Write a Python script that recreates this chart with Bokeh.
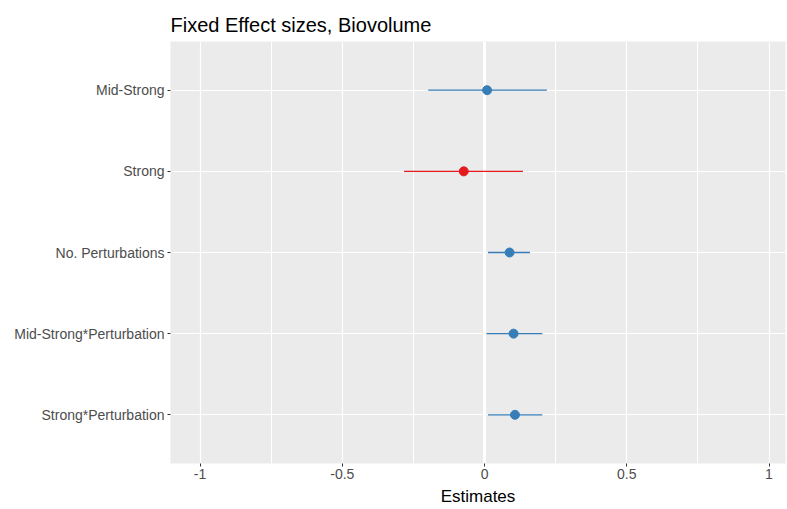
from bokeh.plotting import figure
from bokeh.models import ColumnDataSource, FixedTicker, Span, Range1d
from bokeh.embed import file_html
from bokeh.resources import INLINE

terms = ["Mid-Strong", "Strong", "No. Perturbations", "Mid-Strong*Perturbation", "Strong*Perturbation"]
estimates = [0.009, -0.073, 0.088, 0.102, 0.107]
ci_low = [-0.198, -0.283, 0.012, 0.007, 0.012]
ci_high = [0.219, 0.135, 0.160, 0.203, 0.203]
x_ticks = [-1, -0.5, 0, 0.5, 1]
x_tick_labels = ["-1", "-0.5", "0", "0.5", "1"]
x_minor = [-0.75, -0.25, 0.25, 0.75]

BLUE = "#377EB8"
RED = "#E41A1C"
pos = list(range(1, len(terms) + 1))
colors = [RED if e < 0 else BLUE for e in estimates]

src = ColumnDataSource(dict(y=pos, est=estimates, lo=ci_low, hi=ci_high, color=colors))

p = figure(width=787, height=509, output_backend="svg", toolbar_location=None,
           x_range=Range1d(-1.104, 1.058), y_range=Range1d(5.6, 0.4),
           min_border_left=170, min_border_right=2, min_border_top=41, min_border_bottom=46)

p.background_fill_color = "#EBEBEB"
p.border_fill_color = "white"
p.outline_line_color = None

p.title.text = "Fixed Effect sizes, Biovolume"
p.title.text_font = "Liberation Sans"
p.title.text_font_size = "20px"
p.title.text_font_style = "normal"
p.title.text_color = "black"
p.title.offset = 0
p.title.standoff = 12

# grids
p.xgrid.ticker = FixedTicker(ticks=x_ticks, minor_ticks=x_minor)
p.xgrid.grid_line_color = "white"
p.xgrid.grid_line_width = 1.2
p.xgrid.minor_grid_line_color = "white"
p.xgrid.minor_grid_line_width = 1.0
p.ygrid.ticker = FixedTicker(ticks=pos)
p.ygrid.grid_line_color = "white"
p.ygrid.grid_line_width = 1.2

p.add_layout(Span(location=0, dimension="height", line_color="white", line_width=3, level="underlay"))

p.segment(x0="lo", x1="hi", y0="y", y1="y", line_color="color", line_width=1.3, source=src)
p.scatter(x="est", y="y", size=9, fill_color="color", line_color="color", source=src)

# axes
p.xaxis.ticker = FixedTicker(ticks=x_ticks)
p.xaxis.major_label_overrides = {t: l for t, l in zip(x_ticks, x_tick_labels)}
p.yaxis.ticker = FixedTicker(ticks=pos)
p.yaxis.major_label_overrides = {i: t for i, t in zip(pos, terms)}
for ax in (p.xaxis[0], p.yaxis[0]):
    ax.axis_line_color = None
    ax.major_tick_line_color = "#333333"
    ax.major_tick_in = 0
    ax.major_tick_out = 3
    ax.minor_tick_line_color = None
    ax.major_label_text_font = "Liberation Sans"
    ax.major_label_text_font_size = "14px"
    ax.major_label_text_color = "#4D4D4D"
    ax.major_label_standoff = 3

p.xaxis.major_label_standoff = 2
p.xaxis.axis_label = "Estimates"
p.xaxis.axis_label_text_font = "Liberation Sans"
p.xaxis.axis_label_text_font_size = "17px"
p.xaxis.axis_label_text_font_style = "normal"
p.xaxis.axis_label_text_color = "black"
p.xaxis.axis_label_standoff = 5

open("out.html", "w").write(file_html(p, INLINE))
